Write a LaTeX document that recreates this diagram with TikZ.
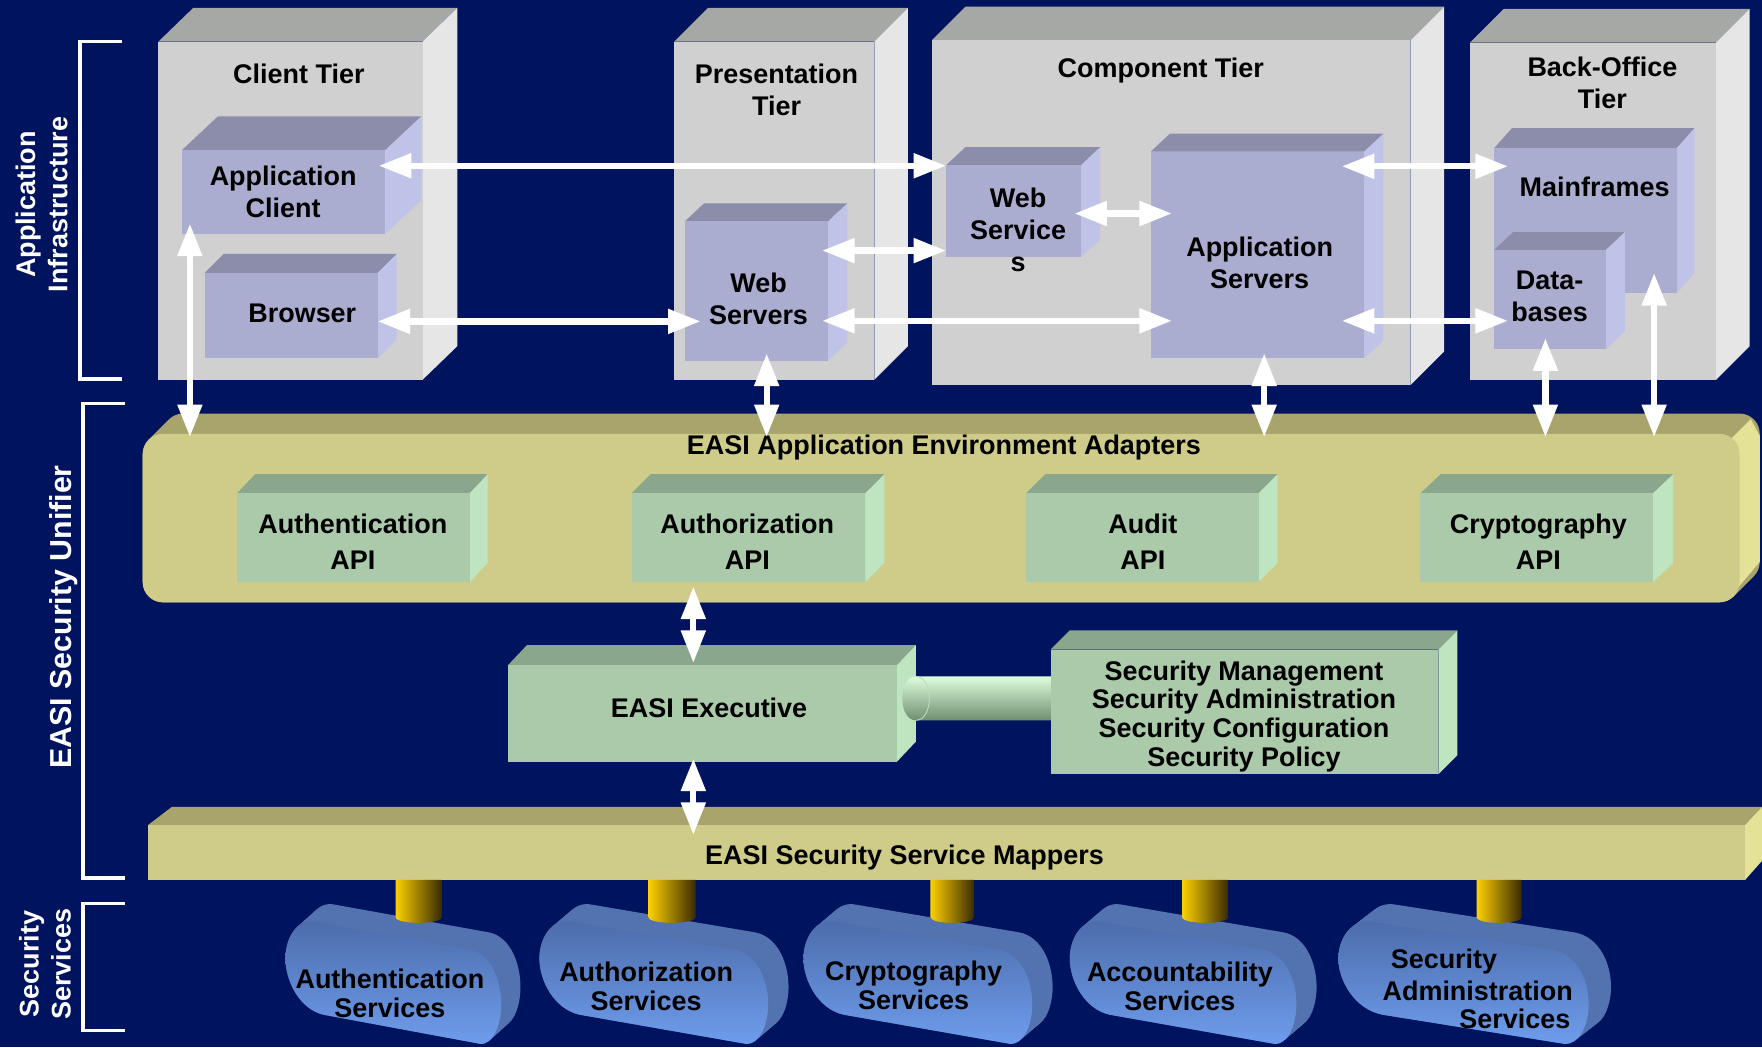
\documentclass[tikz,border=0pt]{standalone}
\usepackage{fontspec}
\setmainfont{Liberation Sans}
\usetikzlibrary{arrows.meta,calc,fit}

\definecolor{bg}{RGB}{0,19,94}
\definecolor{tierfront}{RGB}{208,208,208}
\definecolor{tiertop}{RGB}{166,168,166}
\definecolor{tierside}{RGB}{230,230,230}
\definecolor{lavfront}{RGB}{171,173,208}
\definecolor{lavtop}{RGB}{139,141,171}
\definecolor{lavside}{RGB}{192,195,232}
\definecolor{grnfront}{RGB}{170,202,170}
\definecolor{grntop}{RGB}{138,166,140}
\definecolor{grnside}{RGB}{190,228,192}
\definecolor{khfront}{RGB}{207,204,138}
\definecolor{khtop}{RGB}{168,164,108}
\definecolor{khside}{RGB}{228,226,150}
\definecolor{drumrim}{RGB}{82,114,176}
\definecolor{drumtop}{RGB}{76,108,170}
\definecolor{drummid}{RGB}{116,164,242}
\definecolor{drumbot}{RGB}{110,156,236}
\definecolor{pegL}{RGB}{252,208,0}
\definecolor{pegM}{RGB}{222,172,0}
\definecolor{pegR}{RGB}{58,42,0}
\definecolor{cylT}{RGB}{220,254,220}
\definecolor{cylB}{RGB}{112,142,112}

\tikzset{
  lbl/.style={font=\fontsize{12}{14.3}\selectfont\bfseries, align=center, inner sep=0pt, text=black},
  apilbl/.style={lbl, font=\fontsize{12}{16}\selectfont\bfseries},
  drumlbl/.style={lbl, font=\fontsize{12}{13}\selectfont\bfseries},
  sidelbl/.style={font=\fontsize{12}{14.3}\selectfont\bfseries, align=center, inner sep=0pt, text=white, rotate=90},
  biarrow/.style={draw=white, line width=2.8pt,
    {Triangle[length=14.5pt,width=10.5pt]}-{Triangle[length=14.5pt,width=10.5pt]}},
  face/.style={inner sep=0pt, outer sep=0pt},
  bracket/.style={draw=white, line width=1.7pt},
}

% 3-D block: name, front x1,y1,x2,y2, depth dx,dy, colour prefix
\newcommand\threed[8]{%
  \fill[#8top] (#2,#3) -- (#2+#6,#3-#7) -- (#4+#6,#3-#7) -- (#4,#3) -- cycle;
  \fill[#8side] (#4,#3) -- (#4+#6,#3-#7) -- (#4+#6,#5-#7) -- (#4,#5) -- cycle;
  \node[face, fill=#8front, fit={(#2,#3)(#4,#5)}] (#1) {};
}

% front face of a service drum
\newcommand\drumface{(279,820) -- (418,845) .. controls (438,849) and (447,875) .. (446,897)
  .. controls (445,915) and (438,929) .. (428,929) -- (288,903)
  .. controls (266,898) and (254,872) .. (254,853)
  .. controls (254,835) and (264,818) .. (279,820) -- cycle}

\newcommand\drum[2]{%
  \begin{scope}[shift={(#1,0)}, xscale=#2]
    \foreach \t in {0,0.1,...,1} {\fill[drumrim, shift={(19*\t,-17*\t)}] \drumface;}
    \shade[top color=drumtop, middle color=drummid, bottom color=drumbot] \drumface;
  \end{scope}}

\newcommand\peg[2]{%
  \shade[left color=pegL, middle color=pegM, right color=pegR]
    (#1,783) -- (#1,816) .. controls (#1,823) and (#2,823) .. (#2,816) -- (#2,783) -- cycle;}

\begin{document}
\begin{tikzpicture}[x=0.5pt,y=-0.5pt]
\fill[bg] (0,0) rectangle (1568,932);
\useasboundingbox (0,0) rectangle (1568,932);

% side brackets and captions
\draw[bracket] (109,37) -- (71,37) -- (71,337) -- (109,337);
\draw[bracket] (111,359) -- (74,359) -- (74,781) -- (111,781);
\draw[bracket] (111,804) -- (74,804) -- (74,917) -- (111,917);
\node[sidelbl] (appinfra) at (37,182) {Application\\Infrastructure};
\node[sidelbl, font=\fontsize{13.5}{16}\selectfont\bfseries] (unifier) at (57,549) {EASI Security Unifier};
\node[sidelbl] (secsvc) at (40,858) {Security\\Services};

% tiers
\threed{clienttier}{141}{37}{376}{338}{31}{30}{tier}
\threed{prestier}{600}{37}{778}{338}{30}{30}{tier}
\threed{comptier}{829}{36}{1255}{343}{30}{30}{tier}
\threed{backtier}{1308}{38}{1527}{338}{30}{30}{tier}
\node[lbl] (clienttierlbl) at (266,66) {Client Tier};
\node[lbl] (prestierlbl) at (691,80) {Presentation\\Tier};
\node[lbl] (comptierlbl) at (1033,63) {Component Tier};
\node[lbl] (backtierlbl) at (1426,74) {Back-Office\\Tier};

% application components
\threed{appclient}{162}{133.5}{343}{208}{32}{30}{lav}
\threed{browser}{182}{243}{336}{319}{17}{17}{lav}
\threed{webservers}{609.5}{197}{737}{321}{17}{16}{lav}
\threed{webservices}{842}{147}{962}{229}{17}{16}{lav}
\threed{appservers}{1024}{135}{1214}{319}{17}{16}{lav}
\threed{mainframes}{1329.5}{132}{1492}{261}{16}{18}{lav}
\threed{databases}{1329.5}{222.5}{1429}{311}{17}{16}{lav}
\node[lbl] (appclientlbl) at (252,171) {Application\\Client};
\node[lbl] (browserlbl) at (269,279) {Browser};
\node[lbl] (webserverslbl) at (675,266) {Web\\Servers};
\node[lbl] (webserviceslbl) at (906,204.5) {Web\\Service\\s};
\node[lbl] (appserverslbl) at (1121,234) {Application\\Servers};
\node[lbl] (mainframeslbl) at (1419,166) {Mainframes};
\node[lbl] (databaseslbl) at (1379,264) {Data-\\bases};

% adapter layer
\foreach \t in {0,2,...,18} {\fill[khtop, rounded corners=9pt] (127+\t,386-\t) rectangle (1548+\t,536-\t);}
\fill[khside] (1540,391) -- (1558,373) -- (1566,388) -- (1566,500) -- (1544,526) -- (1530,526) -- (1530,391) -- cycle;
\node[face, fill=khfront, rounded corners=9pt, fit={(127,386)(1548,536)}] (adapter) {};
\node[lbl] (adapterlbl) at (840,398) {EASI Application Environment Adapters};

\threed{authapi}{211}{439}{418}{518}{16}{17}{grn}
\threed{authzapi}{562}{439}{770}{518}{17}{17}{grn}
\threed{auditapi}{913}{439}{1120}{518}{17}{17}{grn}
\threed{cryptoapi}{1264}{439}{1471}{518}{18}{17}{grn}
\node[apilbl] (authapilbl) at (314,482) {Authentication\\API};
\node[apilbl] (authzapilbl) at (665,482) {Authorization\\API};
\node[apilbl] (auditapilbl) at (1017,482) {Audit\\API};
\node[apilbl] (cryptoapilbl) at (1369,482) {Cryptography\\API};

% executive and management
\threed{exec}{452}{592}{798}{678}{17}{18}{grn}
\node[lbl] (execlbl) at (631,630) {EASI Executive};
\shade[top color=cylT, bottom color=cylB] (815,602) .. controls (799,602) and (799,641) .. (815,641) -- (940,641) -- (940,602) -- cycle;
\draw[cylB!30!cylT, line width=0.4pt] (815,602) .. controls (831,602) and (831,641) .. (815,641);
\threed{secmgmt}{935}{578}{1280}{689}{17}{17}{grn}
\node[lbl, font=\fontsize{12}{12.8}\selectfont\bfseries] (secmgmtlbl) at (1107,637.5)
  {Security Management\\Security Administration\\Security Configuration\\Security Policy};

% mapper layer
\fill[khtop] (132,734) -- (153,718) -- (1568,718) -- (1553,734) -- cycle;
\fill[khside] (1553,734) -- (1568,718) -- (1568,766) -- (1553,783) -- cycle;
\node[face, fill=khfront, fit={(132,734)(1553,783)}] (mappers) {};
\node[lbl] (mapperslbl) at (805,763) {EASI Security Service Mappers};

% security services
\drum{0}{1}
\drum{210.76}{1.06}
\drum{445.76}{1.06}
\drum{685.3}{1.05}
\drum{896.36}{1.16}
\peg{352}{393}
\peg{577}{619}
\peg{828}{867}
\peg{1052}{1093}
\peg{1314}{1354}
\node[drumlbl] (svcauth) at (347,884) {Authentication\\Services};
\node[drumlbl] (svcauthz) at (575,877.5) {Authorization\\Services};
\node[drumlbl] (svccrypto) at (813,877) {Cryptography\\Services};
\node[drumlbl] (svcacct) at (1050,877.5) {Accountability\\Services};
\node[drumlbl] (svcadmA) at (1285,856) {Security};
\node[drumlbl] (svcadmB) at (1315,882) {Administration};
\node[drumlbl] (svcadmC) at (1348,907) {Services};

% horizontal connectors
\coordinate (a1) at ($(appclient.north east)+(-6,14)$);
\draw[biarrow] (a1) -- (a1 -| webservices.west);
\coordinate (a2) at ($(browser.east)+(0,5)$);
\draw[biarrow] (a2) -- ($(a2 -| webservers.west)+(14,0)$);
\coordinate (a3) at ($(webservers.north east)+(-5.5,26)$);
\draw[biarrow] (a3) -- (a3 -| webservices.west);
\coordinate (a4) at ($(webservices.east)+(-6,2)$);
\draw[biarrow] (a4) -- ($(a4 -| appservers.west)+(19,0)$);
\coordinate (a5) at ($(webservers.east)+(-5.5,26.5)$);
\draw[biarrow] (a5) -- ($(a5 -| appservers.west)+(19,0)$);
\coordinate (a6) at ($(appservers.north east)+(-20,13)$);
\draw[biarrow] (a6) -- ($(a6 -| mainframes.west)+(12.5,0)$);
\coordinate (a7) at ($(appservers.east |- a5)+(-20,0)$);
\draw[biarrow] (a7) -- ($(a7 -| databases.west)+(12.5,0)$);

% vertical connectors
\coordinate (v1) at ($(appclient.south west)+(7,-9)$);
\draw[biarrow] (v1) -- ($(v1 |- adapter.north)+(0,3)$);
\coordinate (v2) at ($(webservers.south)+(9,-6.5)$);
\draw[biarrow] (v2) -- ($(v2 |- adapter.north)+(0,3)$);
\coordinate (v3) at ($(appservers.south)+(6,-4.5)$);
\draw[biarrow] (v3) -- ($(v3 |- adapter.north)+(0,3)$);
\coordinate (v4) at ($(databases.south)+(-4,-10)$);
\draw[biarrow] (v4) -- ($(v4 |- adapter.north)+(0,3)$);
\coordinate (v5) at ($(mainframes.south east)+(-20,-18)$);
\draw[biarrow] (v5) -- ($(v5 |- adapter.north)+(0,3)$);
\coordinate (v6) at ($(authzapi.south west)+(55,4)$);
\draw[biarrow] (v6) -- ($(v6 |- exec.north)+(0,-2)$);
\coordinate (v7) at ($(exec.south -| v6)+(0,-3)$);
\draw[biarrow] (v7) -- ($(v7 |- mappers.north)+(0,9)$);
\end{tikzpicture}
\end{document}
